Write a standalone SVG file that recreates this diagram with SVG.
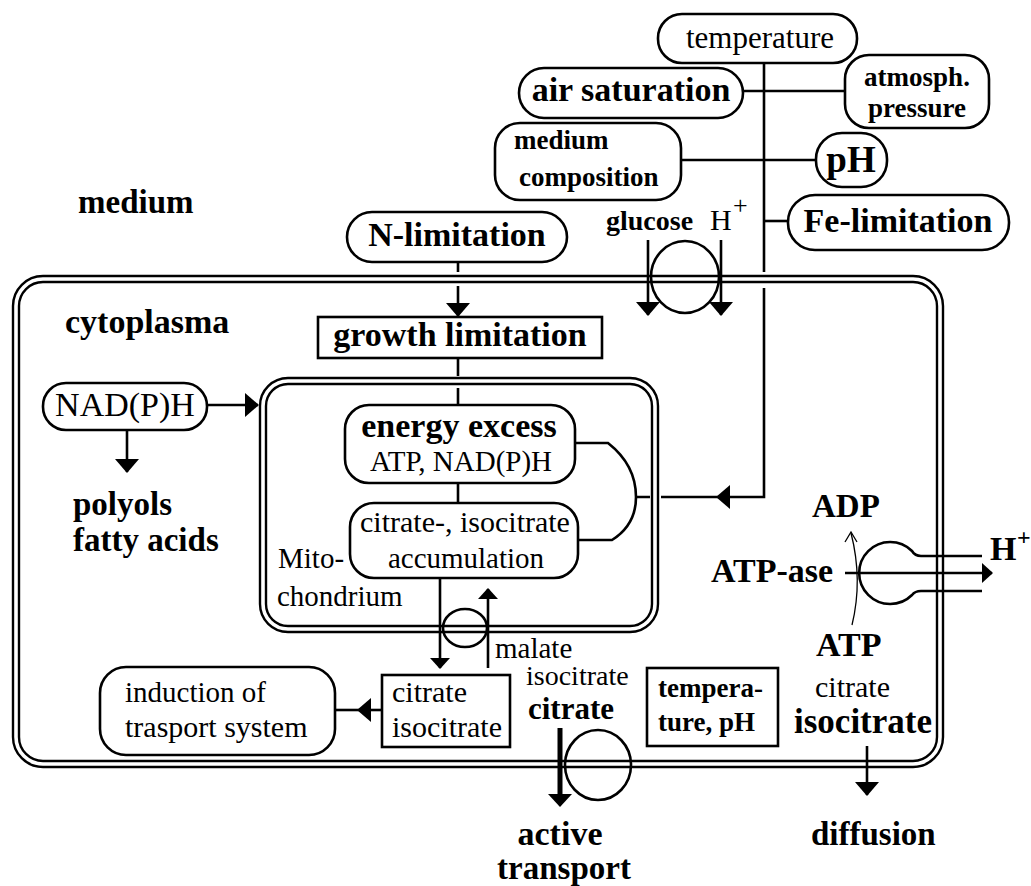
<svg xmlns="http://www.w3.org/2000/svg" width="1031" height="886" viewBox="0 0 1031 886">
<defs>
<style>
text{font-family:"Liberation Serif","Times New Roman",serif;fill:#000}
.r{font-size:30px}
.b{font-size:34px;font-weight:bold}
.s{font-size:27px;font-weight:bold}
.c{text-anchor:middle}
.box{fill:#fff;stroke:#000;stroke-width:2.6}
.ln{fill:none;stroke:#000;stroke-width:2.6}
.mem{fill:none;stroke:#000;stroke-width:2.4}
.thin{fill:none;stroke:#000;stroke-width:1.3}
</style>
<marker id="ah" markerUnits="userSpaceOnUse" viewBox="0 0 14 24" markerWidth="14" markerHeight="24" refX="13" refY="12" orient="auto"><path d="M0,0 L14,12 L0,24 z"/></marker>
<marker id="as" markerUnits="userSpaceOnUse" viewBox="0 0 11 20" markerWidth="11" markerHeight="20" refX="10" refY="10" orient="auto"><path d="M0,0 L11,10 L0,20 z"/></marker>
</defs>
<rect width="1031" height="886" fill="#fff"/>

<g id="membranes">
<rect class="mem" x="13" y="276" width="930" height="491" rx="30"/>
<rect class="mem" x="19" y="282" width="918" height="479" rx="24"/>
<rect class="mem" x="260" y="378" width="398" height="254" rx="28"/>
<rect class="mem" x="266" y="384" width="386" height="242" rx="22"/>
</g>

<g id="connectors">
<path class="ln" d="M764,63 V272"/>
<path class="ln" d="M764,288 V497 H717" marker-end="url(#ah)"/>
<path class="ln" d="M717,497 H661 M650,497 H636"/>
<path class="ln" d="M743,91 H845"/>
<path class="ln" d="M681,160 H816"/>
<path class="ln" d="M764,221 H788"/>
<path class="ln" d="M458,262 V272"/>
<path class="ln" d="M458,286 V316" marker-end="url(#ah)"/>
<path class="ln" d="M458,358 V376 M458,388 V405"/>
<path class="ln" d="M458,483 V503"/>
<path class="ln" d="M575,443 H608 Q636,465 636,497 Q636,525 612,540 H578"/>
<path class="ln" d="M648,240 V315" marker-end="url(#ah)"/>
<path class="ln" d="M721,240 V315" marker-end="url(#ah)"/>
<ellipse class="ln" cx="685" cy="277" rx="34" ry="36"/>
<path class="ln" d="M207,405 H258" marker-end="url(#ah)"/>
<path class="ln" d="M127,430 V472" marker-end="url(#ah)"/>
<ellipse class="ln" cx="465" cy="628" rx="22" ry="19"/>
<path class="ln" d="M440,578 V668" marker-end="url(#as)"/>
<path class="ln" d="M488,668 V589" marker-end="url(#as)"/>
<path class="ln" d="M382,710 H358" marker-end="url(#ah)"/>
<path class="ln" d="M358,710 H335"/>
<path d="M560,728 V796" fill="none" stroke="#000" stroke-width="5"/>
<path d="M548,794 L572,794 L560,807 z"/>
<ellipse class="ln" cx="598" cy="765" rx="33" ry="35"/>
<path class="ln" d="M867,746 V795" marker-end="url(#ah)"/>
<path class="ln" d="M845,573 H992" marker-end="url(#as)"/>
<path class="ln" d="M982,556 H921 Q915,556 912,551 A31,31 0 1 0 912,595 Q915,591 921,591 H982"/>
<path class="thin" d="M852,625 Q863,580 851,533"/>
<path class="thin" d="M845,542 L851,532 L857,542"/>
</g>

<g id="temperature"><rect class="box" x="658" y="14" width="199" height="49" rx="24"/><text class="r c" x="760" y="48" style="font-size:31px">temperature</text></g>
<g id="air-saturation"><rect class="box" x="519" y="68" width="224" height="50" rx="25"/><text class="b c" x="631" y="101">air saturation</text></g>
<g id="atmosph-pressure"><rect class="box" x="845" y="55" width="144" height="73" rx="24"/><text class="s c" x="917" y="86">atmosph.</text><text class="s c" x="917" y="117">pressure</text></g>
<g id="medium-composition"><rect class="box" x="495" y="123" width="186" height="77" rx="25"/><text class="s" x="514" y="149">medium</text><text class="s" x="519" y="186">composition</text></g>
<g id="pH"><rect class="box" x="816" y="133" width="71" height="54" rx="26"/><text class="b c" x="851" y="172" style="font-size:37px">pH</text></g>
<g id="Fe-limitation"><rect class="box" x="788" y="195" width="221" height="55" rx="27"/><text class="b c" x="898" y="232">Fe-limitation</text></g>
<g id="N-limitation"><rect class="box" x="347" y="212" width="220" height="50" rx="25"/><text class="b c" x="457" y="246">N-limitation</text></g>
<g id="growth-limitation"><rect class="box" x="318" y="317" width="284" height="41"/><text class="b c" x="460" y="346">growth limitation</text></g>
<g id="energy-excess"><rect class="box" x="345" y="405" width="230" height="78" rx="24"/><text class="b c" x="459" y="437">energy excess</text><text class="r c" x="461" y="471" style="font-size:29px">ATP, NAD(P)H</text></g>
<g id="accumulation"><rect class="box" x="350" y="503" width="228" height="75" rx="24"/><text class="r c" x="465" y="532">citrate-, isocitrate</text><text class="r c" x="466" y="568" style="font-size:29px">accumulation</text></g>
<g id="NADPH"><rect class="box" x="43" y="383" width="164" height="47" rx="23"/><text class="r c" x="125" y="416" style="font-size:34px">NAD(P)H</text></g>
<g id="induction"><rect class="box" x="100" y="667" width="235" height="88" rx="26"/><text class="r" x="125" y="702" style="font-size:29px">induction of</text><text class="r" x="125" y="737" style="font-size:30px">trasport system</text></g>
<g id="citrate-isocitrate"><rect class="box" x="382" y="675" width="128" height="72"/><text class="r" x="392" y="702">citrate</text><text class="r" x="392" y="737">isocitrate</text></g>
<g id="temperature-pH"><rect class="box" x="647" y="668" width="131" height="78"/><text class="s" x="658" y="697">tempera-</text><text class="s" x="658" y="731">ture, pH</text></g>

<g id="labels">
<text class="b" x="78" y="213" style="font-size:33px">medium</text>
<text class="b" x="65" y="333">cytoplasma</text>
<text class="s" x="606" y="230" style="font-size:28px">glucose</text>
<text class="r" x="710" y="230">H</text><text class="r" x="733" y="214" style="font-size:26px">+</text>
<text class="r" x="278" y="568" style="font-size:29px">Mito-</text>
<text class="r" x="277" y="606" style="font-size:29px">chondrium</text>
<text class="b" x="73" y="515" style="font-size:33px">polyols</text>
<text class="b" x="73" y="551" style="font-size:33px">fatty acids</text>
<text class="r" x="495" y="658" style="font-size:29px">malate</text>
<text class="r" x="526" y="685" style="font-size:28px">isocitrate</text>
<text class="b" x="528" y="719" style="font-size:31px">citrate</text>
<text class="b" x="812" y="517" style="font-size:33px">ADP</text>
<text class="b" x="711" y="582">ATP-ase</text>
<text class="b" x="990" y="560">H</text><text class="b" x="1017" y="545" style="font-size:24px">+</text>
<text class="b" x="816" y="656">ATP</text>
<text class="r" x="815" y="697">citrate</text>
<text class="b" x="794" y="733" style="font-size:35px">isocitrate</text>
<text class="b" x="811" y="845" style="font-size:33px">diffusion</text>
<text class="b c" x="560" y="845">active</text>
<text class="b c" x="564" y="879" style="font-size:33px">transport</text>
</g>
</svg>
